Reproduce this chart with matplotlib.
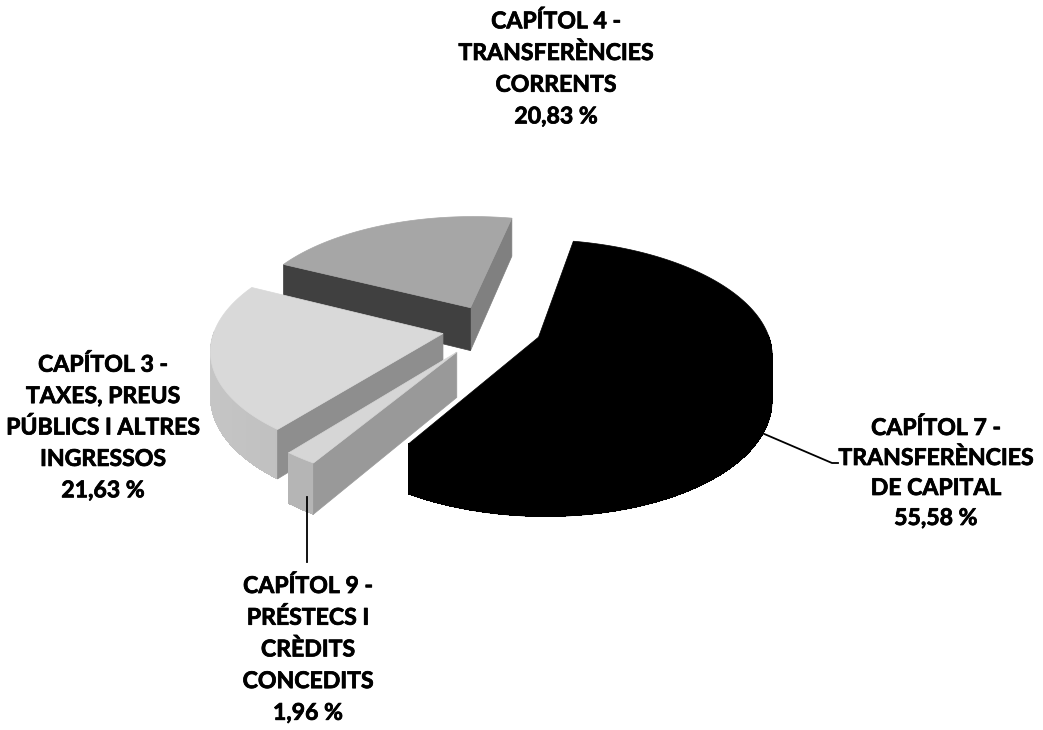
import numpy as np
import matplotlib
matplotlib.use('Agg')
import matplotlib.pyplot as plt
import matplotlib.patheffects as pe
from matplotlib.patches import Polygon
from matplotlib.collections import PolyCollection

# ---------------- data ----------------
categories = [
    ["CAPÍTOL 7 -", "TRANSFERÈNCIES", "DE CAPITAL"],
    ["CAPÍTOL 9 -", "PRÉSTECS I", "CRÈDITS", "CONCEDITS"],
    ["CAPÍTOL 3 -", "TAXES, PREUS", "PÚBLICS I ALTRES", "INGRESSOS"],
    ["CAPÍTOL 4 -", "TRANSFERÈNCIES", "CORRENTS"],
]
values = [55.58, 1.96, 21.63, 20.83]
pct_labels = ["55,58 %", "1,96 %", "21,63 %", "20,83 %"]

# ---------------- style / layout ----------------
top_colors = ['#000000', '#d6d6d6', '#d9d9d9', '#a6a6a6']
face_colors = ['#000000', '#999999', '#8e8e8e', None]
side_light = ['#000000', '#b8b8b8', '#c6c6c6', '#909090']
side_dark = ['#000000', '#aaaaaa', '#a8a8a8', '#909090']
explode = [0.218, 0.26, 0.218, 0.218]

CX, CY = 491.8, 328.4      # projected pie centre (pixels)
A, B = 228.0, 108.4        # horizontal / vertical radii
K = 0.133                  # perspective strength
H = 44.0                   # thickness
START = 78.6               # start angle (deg), clockwise

W, HGT = 1043, 730
fig = plt.figure(figsize=(W / 100, HGT / 100), dpi=100)
ax = fig.add_axes([0, 0, 1, 1])
ax.set_xlim(0, W)
ax.set_ylim(HGT, 0)
ax.axis('off')


def proj(u, v, z=0.0):
    p = 1.0 / (1.0 + K * v)
    return CX + A * u * p, CY - B * v * p + z * H * p


def lerp_color(c1, c2, t):
    a = np.array(matplotlib.colors.to_rgb(c1))
    b = np.array(matplotlib.colors.to_rgb(c2))
    return tuple(a + (b - a) * t)


total = sum(values)
spans = []
ang = START
for v in values:
    sweep = 360.0 * v / total
    spans.append((ang - sweep, ang))   # ccw interval [t0, t1]
    ang -= sweep

draw_order = [3, 2, 1, 0]
for i in draw_order:
    t0, t1 = spans[i]
    m = np.radians((t0 + t1) / 2)
    ou, ov = explode[i] * np.cos(m), explode[i] * np.sin(m)
    th = np.radians(np.linspace(t0, t1, 240))
    us = ou + np.cos(th)
    vs = ov + np.sin(th)

    # outer side (front-facing part)
    front = np.sin(th) < 0.02
    if front.any():
        idx = np.where(front)[0]
        tops = [proj(us[j], vs[j]) for j in idx]
        bots = [proj(us[j], vs[j], 1) for j in idx[::-1]]
        base = lerp_color(side_light[i], side_dark[i], 0.5)
        ax.add_patch(Polygon(tops + bots, closed=True, facecolor=base,
                             edgecolor=base, linewidth=0.5, zorder=2))
        quads, cols = [], []
        for a_, b_ in zip(idx[:-1], idx[1:]):
            tm = 0.5 * (th[a_] + th[b_])
            quads.append([proj(us[a_], vs[a_]), proj(us[b_], vs[b_]),
                          proj(us[b_], vs[b_], 1), proj(us[a_], vs[a_], 1)])
            t = (np.cos(tm) + 1) / 2
            cols.append(lerp_color(side_light[i], side_dark[i], t))
        if quads:
            ax.add_collection(PolyCollection(quads, facecolors=cols, edgecolors='none',
                                             antialiased=False, zorder=2))

    # radial faces
    for edge_ang, normal_ang in ((t0, t0 - 90), (t1, t1 + 90)):
        if np.sin(np.radians(normal_ang)) < 0:
            if i == 3:
                col = '#404040' if edge_ang == t1 else '#808080'
            else:
                col = face_colors[i]
            e = np.radians(edge_ang)
            cu, cv = ou + np.cos(e), ov + np.sin(e)
            poly = [proj(ou, ov), proj(cu, cv), proj(cu, cv, 1), proj(ou, ov, 1)]
            ax.add_patch(Polygon(poly, closed=True, facecolor=col, edgecolor=col,
                                 linewidth=0.5, zorder=2))

    # top
    pts = [proj(ou, ov)] + [proj(a, b) for a, b in zip(us, vs)]
    ax.add_patch(Polygon(pts, closed=True, facecolor=top_colors[i],
                         edgecolor=top_colors[i], linewidth=0.5, zorder=2))

# ---------------- labels ----------------
FONT = dict(family=['Lato', 'DejaVu Sans'], weight='bold', fontsize=16.6, color='black')
STROKE = [pe.withStroke(linewidth=0.55, foreground='black')]
label_pos = [(936, 435, 30.0), (308, 593, 31.7), (103, 371.7, 31.4), (556, 28.3, 31.7)]
for i in range(4):
    x, y0, dy = label_pos[i]
    lines = categories[i] + [pct_labels[i]]
    for k, line in enumerate(lines):
        ax.text(x, y0 + k * dy, line, ha='center', va='baseline', zorder=5,
                path_effects=STROKE, **FONT)

# leader lines
ax.plot([755, 832, 838], [430, 463, 463], color='black', lw=1.3, zorder=4)
ax.plot([307, 307], [497, 562], color='black', lw=1.3, zorder=4)

fig.savefig('out.png', dpi=100, facecolor='white')
